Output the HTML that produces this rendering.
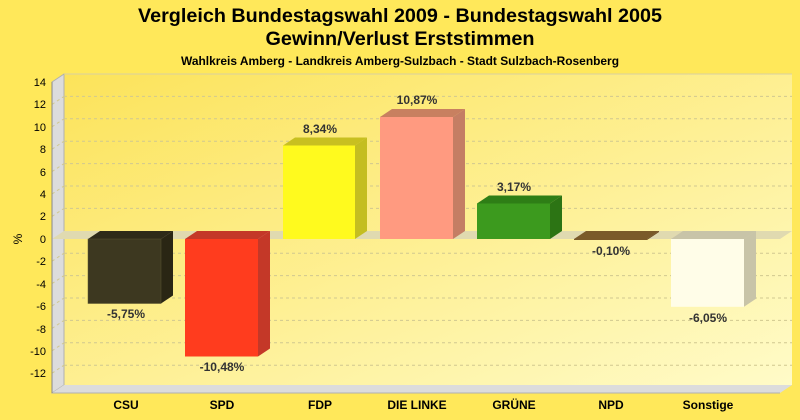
<!DOCTYPE html>
<html><head><meta charset="utf-8"><style>
html,body{margin:0;padding:0;background:#FFE85A;}
svg{display:block;font-family:"Liberation Sans",sans-serif;}
</style></head><body>
<svg width="800" height="420" viewBox="0 0 800 420" xmlns="http://www.w3.org/2000/svg">
<defs>
<linearGradient id="wall" x1="0" y1="0" x2="1" y2="1">
<stop offset="0" stop-color="#FCE35A"/><stop offset="1" stop-color="#FFFBC8"/>
</linearGradient>
</defs>
<rect width="800" height="420" fill="#FFE85A"/>
<text x="400" y="22" text-anchor="middle" font-size="19" font-weight="bold" textLength="524" lengthAdjust="spacingAndGlyphs">Vergleich Bundestagswahl 2009 - Bundestagswahl 2005</text>
<text x="400" y="45" text-anchor="middle" font-size="19" font-weight="bold" textLength="269" lengthAdjust="spacingAndGlyphs">Gewinn/Verlust Erststimmen</text>
<text x="400" y="65" text-anchor="middle" font-size="12" font-weight="bold" textLength="438" lengthAdjust="spacingAndGlyphs">Wahlkreis Amberg - Landkreis Amberg-Sulzbach - Stadt Sulzbach-Rosenberg</text>
<rect x="64" y="74" width="728" height="311" fill="url(#wall)"/>
<polygon points="52,82 64,74 64,385 52,393" fill="#DCDCDC" stroke="#B0B0B0" stroke-width="1"/>
<polygon points="52,393 64,385 792,385 780,393" fill="#DCDCDC"/>
<line x1="52" y1="393" x2="780" y2="393" stroke="#B0B0B0"/>
<line x1="64" y1="74" x2="792" y2="74" stroke="#D8D0A0"/>
<g stroke="#D0C890" stroke-dasharray="3,3" stroke-width="1" fill="none">
<path d="M64 96.4H792M64 118.8H792M64 141.2H792M64 163.6H792M64 186H792M64 208.4H792M64 253.2H792M64 275.6H792M64 298H792M64 320.4H792M64 342.8H792M64 365.2H792"/>
<path d="M52 104.4L64 96.4M52 126.8L64 118.8M52 149.2L64 141.2M52 171.6L64 163.6M52 194L64 186M52 216.4L64 208.4M52 261.2L64 253.2M52 283.6L64 275.6M52 306L64 298M52 328.4L64 320.4M52 350.8L64 342.8M52 373.2L64 365.2"/>
</g>
<polygon points="52,239 64,231 792,231 780,239" fill="#E0DAB0"/>
<g stroke="#888"><line x1="52" y1="82" x2="52" y2="393"/></g>
<g font-size="11" text-anchor="end" fill="#000">
<text x="46" y="86">14</text><text x="46" y="108">12</text><text x="46" y="131">10</text><text x="46" y="153">8</text><text x="46" y="176">6</text><text x="46" y="198">4</text><text x="46" y="220">2</text><text x="46" y="243">0</text><text x="46" y="265">-2</text><text x="46" y="288">-4</text><text x="46" y="310">-6</text><text x="46" y="333">-8</text><text x="46" y="355">-10</text><text x="46" y="377">-12</text>
</g>
<text x="22" y="239" font-size="12" transform="rotate(-90 22 239)" text-anchor="middle">%</text>
<polygon points="88,239 100,231 173,231 161,239" fill="#2e2a18"/>
<polygon points="161,239 173,231 173,295.5 161,303.5" fill="#2a2614"/>
<rect x="88" y="239" width="73" height="64.5" fill="#3D3820" stroke="#5a5430" stroke-width="0.5"/>
<polygon points="185,239 197,231 270,231 258,239" fill="#C43828"/>
<polygon points="258,239 270,231 270,348.5 258,356.5" fill="#C43828"/>
<rect x="185" y="239" width="73" height="117.5" fill="#FF3C1E"/>
<polygon points="283,145.5 295,137.5 367,137.5 355,145.5" fill="#C8C020"/>
<polygon points="355,145.5 367,137.5 367,231 355,239" fill="#C4BE20"/>
<rect x="283" y="145.5" width="72" height="93.5" fill="#FFFA1E"/>
<polygon points="380,117 392,109 465,109 453,117" fill="#C88060"/>
<polygon points="453,117 465,109 465,231 453,239" fill="#C47E64"/>
<rect x="380" y="117" width="73" height="122" fill="#FF9A80"/>
<polygon points="477,203.5 489,195.5 562,195.5 550,203.5" fill="#2E7E16"/>
<polygon points="550,203.5 562,195.5 562,231 550,239" fill="#2C7414"/>
<rect x="477" y="203.5" width="73" height="35.5" fill="#3C9A1E"/>
<polygon points="574,239 586,231 659,231 647,239" fill="#7A5A2A"/>
<polygon points="647,239 659,231 659,232 647,240" fill="#6a4a20"/>
<rect x="574" y="239" width="73" height="1" fill="#7A5A2A"/>
<polygon points="671,239 683,231 756,231 744,239" fill="#C8C4A8"/>
<polygon points="744,239 756,231 756,298.8 744,306.8" fill="#C8C4A8"/>
<rect x="671" y="239" width="73" height="67.8" fill="#FFFDE8"/>
<g font-size="12" font-weight="bold" fill="#333" text-anchor="middle">
<text x="126" y="318">-5,75%</text>
<text x="222" y="371">-10,48%</text>
<text x="320" y="133">8,34%</text>
<text x="417" y="104">10,87%</text>
<text x="514" y="191">3,17%</text>
<text x="611" y="255">-0,10%</text>
<text x="708" y="322">-6,05%</text>
</g>
<g font-size="12" font-weight="bold" fill="#000" text-anchor="middle">
<text x="126" y="409">CSU</text>
<text x="222" y="409">SPD</text>
<text x="320" y="409">FDP</text>
<text x="417" y="409">DIE LINKE</text>
<text x="514" y="409">GRÜNE</text>
<text x="611" y="409">NPD</text>
<text x="708" y="409">Sonstige</text>
</g>
</svg>
</body></html>
